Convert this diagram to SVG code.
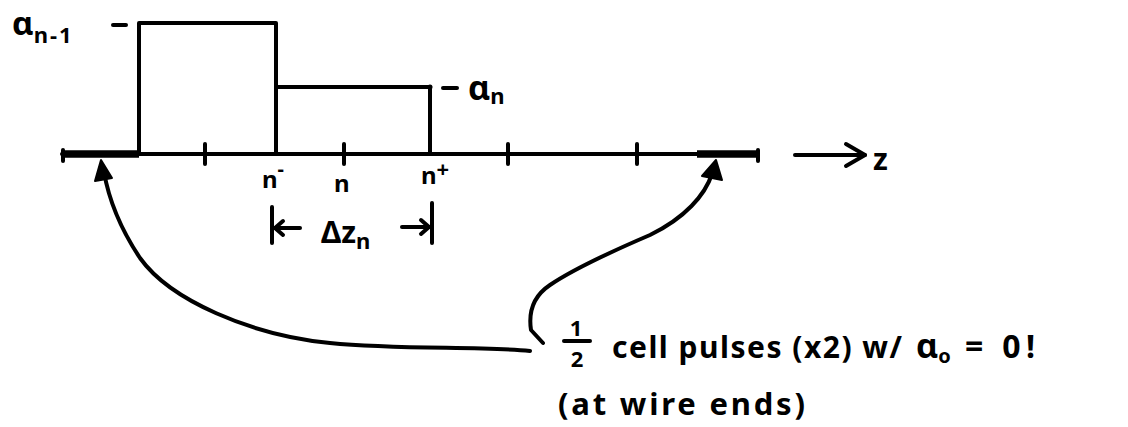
<svg xmlns="http://www.w3.org/2000/svg" width="1128" height="427" viewBox="0 0 1128 427">
  <defs>
    <style>
      .ln { stroke: #000; stroke-width: 4; fill: none; stroke-linecap: round; stroke-linejoin: round; }
      .thick { stroke: #000; stroke-width: 7.5; fill: none; }
      .t { font-family: "Noto Sans", "DejaVu Sans", sans-serif; font-weight: 700; fill: #000; }
      .head { fill: #000; stroke: #000; stroke-width: 2; stroke-linejoin: round; }
    </style>
  </defs>
  <rect width="1128" height="427" fill="#fff"/>

  <g id="axis">
    <line class="ln" x1="62" y1="154" x2="758" y2="154"/>
    <line class="thick" x1="62" y1="154" x2="139" y2="154"/>
    <line class="thick" x1="697" y1="154" x2="758" y2="154"/>
    <line class="ln" x1="63" y1="150" x2="63" y2="161"/>
    <line class="ln" x1="758" y1="150" x2="758" y2="161"/>
    <line class="ln" x1="205" y1="144" x2="205" y2="164"/>
    <line class="ln" x1="344" y1="144" x2="344" y2="164"/>
    <line class="ln" x1="508" y1="144" x2="508" y2="164"/>
    <line class="ln" x1="637" y1="144" x2="637" y2="164"/>
  </g>

  <g id="z-arrow">
    <line class="ln" x1="795" y1="155" x2="865" y2="155"/>
    <polyline class="ln" points="846,144 865,155 846,166"/>
    <text class="t" x="873" y="170" font-size="30">z</text>
  </g>

  <g id="pulses">
    <polyline class="ln" points="139,154 139,23 276,23 276,154"/>
    <polyline class="ln" points="276,87 430,87 430,154"/>
    <circle cx="430" cy="87" r="2.5" fill="#000"/>
  </g>

  <g id="label-alpha-n-1">
    <line class="ln" x1="113" y1="25" x2="126" y2="25"/>
    <text class="t" x="12" y="35" font-size="33">α<tspan font-size="22" dy="8" letter-spacing="2">n-1</tspan></text>
  </g>

  <g id="label-alpha-n">
    <line class="ln" x1="443" y1="88" x2="457" y2="88"/>
    <text class="t" x="468" y="100" font-size="34">α<tspan font-size="22" dy="4">n</tspan></text>
  </g>

  <g id="tick-labels">
    <text class="t" x="262" y="188" font-size="24">n<tspan font-size="20" dy="-12">-</tspan></text>
    <text class="t" x="334" y="192" font-size="24">n</text>
    <text class="t" x="421" y="184" font-size="24">n<tspan font-size="22" dy="-7">+</tspan></text>
  </g>

  <g id="delta-z">
    <line class="ln" x1="272" y1="207" x2="272" y2="243"/>
    <line class="ln" x1="275" y1="228" x2="300" y2="228"/>
    <polyline class="ln" points="283,221 275,228 283,235"/>
    <text class="t" x="321" y="243" font-size="30">Δz<tspan font-size="22" dy="6">n</tspan></text>
    <line class="ln" x1="402" y1="227" x2="429" y2="227"/>
    <polyline class="ln" points="421,220 429,227 421,234"/>
    <line class="ln" x1="432" y1="203" x2="432" y2="243"/>
  </g>

  <g id="connectors">
    <path class="ln" d="M530,351 C480,346 400,350 330,343 C250,335 170,300 140,258 C118,225 108,195 104,172"/>
    <polygon class="head" points="101,160 95,181 112,178"/>
    <path class="ln" d="M543,343 L531,330 C528,310 535,295 550,285 C575,268 615,250 650,235 C685,218 705,195 712,174"/>
    <polygon class="head" points="716,160 702,176 722,180"/>
  </g>

  <g id="note">
    <text class="t" x="576" y="336" font-size="22" text-anchor="middle">1</text>
    <line class="ln" x1="564" y1="341" x2="590" y2="341"/>
    <text class="t" x="577" y="367" font-size="22" text-anchor="middle">2</text>
    <text class="t" x="612" y="358" font-size="30" textLength="290" lengthAdjust="spacing">cell pulses (x2) w/</text>
    <text class="t" x="916" y="358" font-size="34">α<tspan font-size="20" dy="5">o</tspan></text>
    <text class="t" x="965" y="358" font-size="32" textLength="70" lengthAdjust="spacing">= 0!</text>
    <text class="t" x="558" y="415" font-size="31" textLength="247" lengthAdjust="spacing">(at wire ends)</text>
  </g>
</svg>
